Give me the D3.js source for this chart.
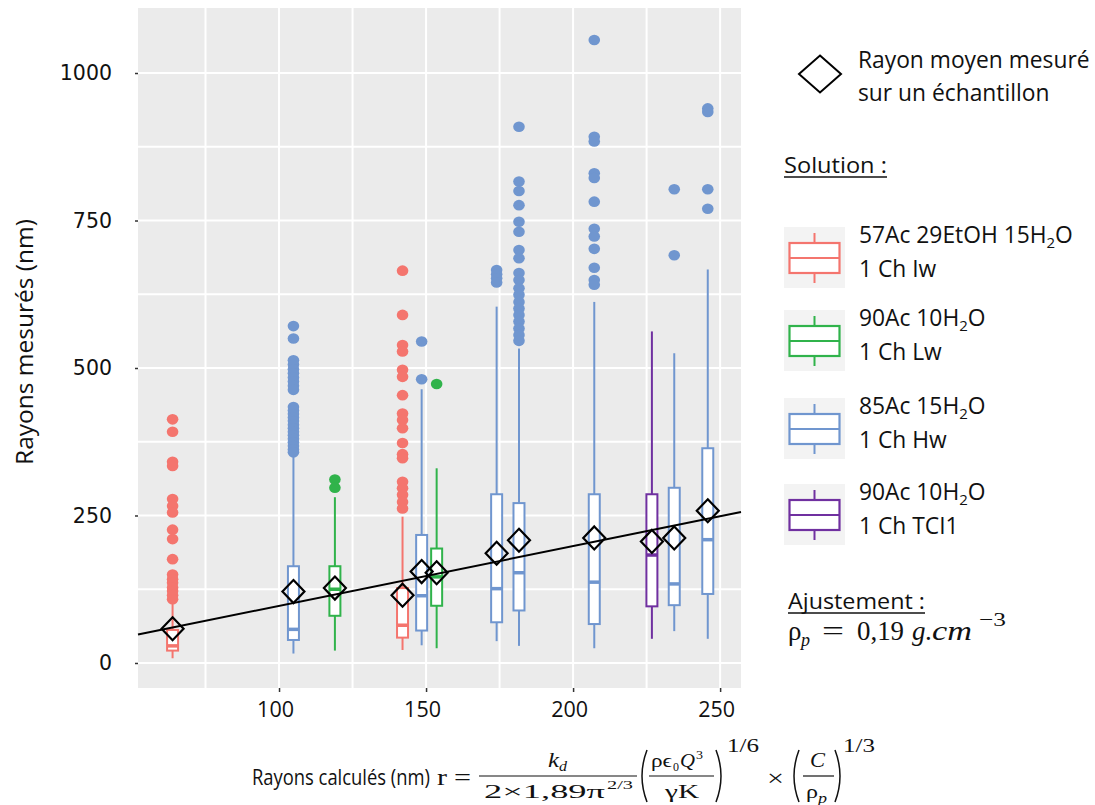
<!DOCTYPE html>
<html>
<head>
<meta charset="utf-8">
<script src="https://cdn.jsdelivr.net/npm/d3@7"></script>
<style>
  html, body { margin: 0; padding: 0; background: #ffffff; }
  svg { display: block; }
</style>
</head>
<body>
<svg id="chart" width="1095" height="805"></svg>
<script>
// ---------------- DATA ----------------
const solutionNames = ["Iw", "Lw", "Hw", "TCI1"];
const solutionLine1 = ["57Ac 29EtOH 15H|2|O", "90Ac 10H|2|O", "85Ac 15H|2|O", "90Ac 10H|2|O"];
const solutionLine2 = ["1 Ch Iw", "1 Ch Lw", "1 Ch Hw", "1 Ch TCI1"];
const solutionColors = ["#F4756E", "#30B34B", "#7096CF", "#7030A0"];

// one entry per sample (box)
const sampleSolution = ["Iw", "Hw", "Lw", "Iw", "Hw", "Lw", "Hw", "Hw", "Hw", "TCI1", "Hw", "Hw"];
const calcRadius   = [63.8, 104.9, 119.0, 142.0, 148.5, 153.6, 174.0, 181.6, 207.2, 226.8, 234.4, 245.8];
const whiskerLow   = [8, 16, 21, 22, 30, 25, 37, 29, 25, 41, 54, 41];
const quartile1    = [21, 39, 80, 43, 55, 97, 69, 89, 66, 96, 98, 117];
const medianVals   = [29, 57, 125, 64, 114, 146, 126, 153, 137, 183, 134, 209];
const quartile3    = [56, 164, 164, 127, 217, 194, 286, 271, 286, 286, 297, 364];
const whiskerHigh  = [102, 352, 281, 248, 464, 330, 604, 533, 612, 562, 525, 667];
const meanVals     = [58, 121, 127, 115, 155, 153, 186, 208, 212, 206, 212, 258];
const outlierVals  = [
  [413, 392, 341, 334, 278, 266, 255, 226, 210, 176, 150, 142, 136, 128, 122, 115, 108],
  [571, 550, 513, 506, 498, 491, 484, 477, 470, 463, 434, 428, 422, 416, 410, 404, 398, 392, 386, 380, 374, 368, 362, 357],
  [311, 297],
  [665, 590, 539, 528, 497, 485, 454, 423, 412, 398, 373, 354, 347, 307, 296, 285, 273, 262],
  [545, 481],
  [473],
  [666, 659, 652, 645],
  [909, 816, 800, 776, 748, 731, 700, 686, 661, 649, 635, 624, 612, 601, 590, 579, 567, 556, 546],
  [1056, 892, 884, 830, 822, 782, 736, 723, 702, 670, 649, 641],
  [],
  [803, 691],
  [940, 934, 803, 770]
];

// fitted line: measured = slope * calculated + intercept
const fitSlope = 1.012;
const fitIntercept = -4.3;

const xTicks = [100, 150, 200, 250];
const xGrid = [75, 100, 125, 150, 175, 200, 225, 250];
const yTicks = [0, 250, 500, 750, 1000];
const yGrid = [0, 125, 250, 375, 500, 625, 750, 875, 1000];

// ---------------- LAYOUT ----------------
const svg = d3.select("#chart");
const panel = { left: 138, right: 741, top: 8, bottom: 688 };

const x = d3.scaleLinear().domain([52.04, 257.1]).range([panel.left, panel.right]);
const y = d3.scaleLinear().domain([-42.4, 1110.2]).range([panel.bottom, panel.top]);
const color = d3.scaleOrdinal().domain(solutionNames).range(solutionColors);

const SANS = "'Open Sans', 'Noto Sans', sans-serif";
const SERIF = "'Liberation Serif', 'DejaVu Serif', serif";

svg.append("rect")
  .attr("x", panel.left).attr("y", panel.top)
  .attr("width", panel.right - panel.left).attr("height", panel.bottom - panel.top)
  .attr("fill", "#EBEBEB");

const grid = svg.append("g");
grid.selectAll("line.v").data(xGrid).join("line")
  .attr("x1", d => x(d)).attr("x2", d => x(d))
  .attr("y1", panel.top).attr("y2", panel.bottom)
  .attr("stroke", "#ffffff").attr("stroke-width", 2);
grid.selectAll("line.h").data(yGrid).join("line")
  .attr("y1", d => y(d)).attr("y2", d => y(d))
  .attr("x1", panel.left).attr("x2", panel.right)
  .attr("stroke", "#ffffff").attr("stroke-width", 2);

const yAxis = d3.axisLeft(y).tickValues(yTicks).tickSize(3).tickPadding(23).tickFormat(d3.format("d"));
const gy = svg.append("g").attr("transform", `translate(${panel.left},0)`).call(yAxis);
gy.select(".domain").remove();
gy.selectAll(".tick line").attr("stroke", "#333").attr("stroke-width", 1.5);
gy.selectAll(".tick text").attr("font-family", "'DejaVu Sans', sans-serif").attr("font-size", 20.5).attr("fill", "#111");

const xAxis = d3.axisBottom(x).tickValues(xTicks).tickSize(4).tickPadding(10).tickFormat(d3.format("d"));
const gx = svg.append("g").attr("transform", `translate(0,${panel.bottom})`).call(xAxis);
gx.select(".domain").remove();
gx.selectAll(".tick line").attr("stroke", "#333").attr("stroke-width", 1.5);
gx.selectAll(".tick text").attr("font-family", SANS).attr("font-size", 21.5).attr("fill", "#111")
  .attr("dx", -4);

// text squeezed/stretched horizontally to a target width
function fitText(g, tx, ty, rot, size, str, width, anchor) {
  const t = g.append("text").attr("font-family", SANS).attr("font-size", size)
    .attr("fill", "#111").attr("text-anchor", anchor || "start").text(str);
  const k = width / t.node().getComputedTextLength();
  t.attr("transform", `translate(${tx},${ty}) rotate(${rot}) scale(${k},1)`);
  return t;
}
fitText(svg, 33, 342, -90, 23.5, "Rayons mesurés (nm)", 246, "middle");

// ---------------- MARKS ----------------
const samples = calcRadius.map((c, i) => ({
  c, sol: sampleSolution[i], lo: whiskerLow[i], q1: quartile1[i], med: medianVals[i],
  q3: quartile3[i], hi: whiskerHigh[i], mean: meanVals[i], out: outlierVals[i]
}));
const bw = 11;
const plot = svg.append("g");

plot.selectAll("line.wu").data(samples).join("line")
  .attr("x1", d => x(d.c)).attr("x2", d => x(d.c))
  .attr("y1", d => y(d.q3)).attr("y2", d => y(d.hi))
  .attr("stroke", d => color(d.sol)).attr("stroke-width", 2);
plot.selectAll("line.wl").data(samples).join("line")
  .attr("x1", d => x(d.c)).attr("x2", d => x(d.c))
  .attr("y1", d => y(d.q1)).attr("y2", d => y(d.lo))
  .attr("stroke", d => color(d.sol)).attr("stroke-width", 2);

plot.selectAll("rect.box").data(samples).join("rect")
  .attr("x", d => x(d.c) - bw / 2).attr("width", bw)
  .attr("y", d => y(d.q3)).attr("height", d => y(d.q1) - y(d.q3))
  .attr("fill", "#ffffff").attr("stroke", d => color(d.sol)).attr("stroke-width", 2);
plot.selectAll("line.med").data(samples).join("line")
  .attr("x1", d => x(d.c) - bw / 2).attr("x2", d => x(d.c) + bw / 2)
  .attr("y1", d => y(d.med)).attr("y2", d => y(d.med))
  .attr("stroke", d => color(d.sol)).attr("stroke-width", 3.5);

const outPts = samples.flatMap(d => d.out.map(v => ({ c: d.c, v, sol: d.sol })));
plot.selectAll("ellipse.out").data(outPts).join("ellipse")
  .attr("cx", d => x(d.c)).attr("cy", d => y(d.v))
  .attr("rx", 5.8).attr("ry", 5.3)
  .attr("fill", d => color(d.sol));

const xd = x.domain();
plot.append("line")
  .attr("x1", x(xd[0])).attr("y1", y(fitSlope * xd[0] + fitIntercept))
  .attr("x2", x(xd[1])).attr("y2", y(fitSlope * xd[1] + fitIntercept))
  .attr("stroke", "#000").attr("stroke-width", 2);

const dia = (cx, cy, hw, hh) => `M${cx},${cy - hh}L${cx + hw},${cy}L${cx},${cy + hh}L${cx - hw},${cy}Z`;
plot.selectAll("path.mean").data(samples).join("path")
  .attr("d", d => dia(x(d.c), y(d.mean), 11, 11.5))
  .attr("fill", "none").attr("stroke", "#000").attr("stroke-width", 2.2);

// ---------------- LEGEND ----------------
const lg = svg.append("g");
lg.append("path").attr("d", dia(820, 74, 21, 18.5))
  .attr("fill", "none").attr("stroke", "#000").attr("stroke-width", 2);
lg.append("text").attr("x", 858).attr("y", 68).attr("font-family", SANS).attr("font-size", 22.8)
  .attr("fill", "#111").text("Rayon moyen mesuré");
lg.append("text").attr("x", 858).attr("y", 101).attr("font-family", SANS).attr("font-size", 22.8)
  .attr("fill", "#111").text("sur un échantillon");

function underlinedText(tx, ty, str, len) {
  fitText(lg, tx, ty, 0, 22.5, str, len);
  lg.append("line").attr("x1", tx).attr("x2", tx + len).attr("y1", ty + 4).attr("y2", ty + 4)
    .attr("stroke", "#111").attr("stroke-width", 1.6);
}
underlinedText(784, 173, "Solution :", 103);

const keyCenters = [258, 341, 429, 515];
solutionNames.forEach((s, i) => {
  const cy = keyCenters[i];
  const k = lg.append("g");
  k.append("rect").attr("x", 784).attr("y", cy - 31).attr("width", 61).attr("height", 61).attr("fill", "#F3F3F3");
  const col = color(s);
  k.append("line").attr("x1", 814.5).attr("x2", 814.5).attr("y1", cy - 25).attr("y2", cy + 25)
    .attr("stroke", col).attr("stroke-width", 2);
  k.append("rect").attr("x", 789.5).attr("y", cy - 15).attr("width", 50).attr("height", 30)
    .attr("fill", "#ffffff").attr("stroke", col).attr("stroke-width", 2.2);
  k.append("line").attr("x1", 789.5).attr("x2", 839.5).attr("y1", cy).attr("y2", cy)
    .attr("stroke", col).attr("stroke-width", 2.2);

  const t1 = lg.append("text").attr("x", 859).attr("y", cy - 15).attr("font-family", SANS)
    .attr("font-size", 22.8).attr("fill", "#111");
  solutionLine1[i].split("|").forEach((part, j) => {
    const ts = t1.append("tspan").text(part);
    if (j === 1) ts.attr("font-size", 15).attr("dy", 5);
    if (j === 2) ts.attr("dy", -5);
  });
  lg.append("text").attr("x", 859).attr("y", cy + 19).attr("font-family", SANS)
    .attr("font-size", 22.8).attr("fill", "#111").text(solutionLine2[i]);
});

underlinedText(788, 609, "Ajustement :", 137);

// math text helper
function mt(g, xp, yp, size, str, opts) {
  opts = opts || {};
  const t = g.append("text").attr("x", xp).attr("y", yp).attr("font-family", SERIF)
    .attr("font-size", size).attr("fill", "#111")
    .attr("text-anchor", opts.anchor || "start").text(str);
  if (opts.italic) t.attr("font-style", "italic");
  if (opts.len) t.attr("textLength", opts.len).attr("lengthAdjust", opts.adj || "spacingAndGlyphs");
  return t;
}
// rho_p = 0,19 g.cm^-3
mt(lg, 788, 640, 27, "ρ");
mt(lg, 801, 646, 18, "p", { italic: true });
mt(lg, 822, 640, 27, "=", { len: 22 });
mt(lg, 857, 640, 27, "0,19", { len: 47 });
mt(lg, 912, 640, 27, "g", { italic: true });
mt(lg, 925, 640, 27, ".");
mt(lg, 932, 640, 27, "cm", { italic: true, len: 40 });
mt(lg, 979, 626, 19, "−3", { len: 27 });

// ---------------- X TITLE + FORMULA ----------------
const ft = svg.append("g").attr("fill", "#111");
fitText(ft, 252, 785, 0, 22, "Rayons calculés (nm)", 178);

const barLine = (x1, x2) => ft.append("line").attr("x1", x1).attr("x2", x2).attr("y1", 776).attr("y2", 776)
  .attr("stroke", "#111").attr("stroke-width", 1.2);
const paren = (xp, dir) => ft.append("path")
  .attr("d", `M${xp + 4 * dir},750 Q${xp - 6 * dir},776 ${xp + 4 * dir},802`)
  .attr("fill", "none").attr("stroke", "#111").attr("stroke-width", 1.5);

mt(ft, 437, 785, 23, "r", { len: 10 });
mt(ft, 454, 785, 23, "=", { len: 17 });
// fraction 1
mt(ft, 548, 767, 20, "k", { italic: true, len: 11 });
mt(ft, 559, 771, 14, "d", { italic: true, len: 8 });
barLine(479, 637);
mt(ft, 484, 798, 19, "2×1,89π", { len: 121 });
mt(ft, 607, 789, 13.5, "2/3", { len: 26 });
// fraction 2
paren(643, 1);
mt(ft, 651, 767, 19, "ρϵ", { len: 21 });
mt(ft, 673, 771, 13, "0", { len: 6 });
mt(ft, 680, 767, 19, "Q", { italic: true, len: 15 });
mt(ft, 696, 759, 13, "3", { len: 7 });
barLine(649, 714);
mt(ft, 665, 798, 19, "γK", { len: 34 });
paren(720, -1);
mt(ft, 727, 752, 18.5, "1/6", { len: 32 });
mt(ft, 767, 786, 24, "×", { len: 17 });
// fraction 3
paren(795, 1);
mt(ft, 810, 767, 20, "C", { italic: true, len: 15 });
barLine(803, 834);
mt(ft, 806, 798, 19, "ρ", { len: 12 });
mt(ft, 818, 803, 14, "p", { italic: true, len: 9 });
paren(839, -1);
mt(ft, 843, 752, 18.5, "1/3", { len: 32 });
</script>
</body>
</html>
